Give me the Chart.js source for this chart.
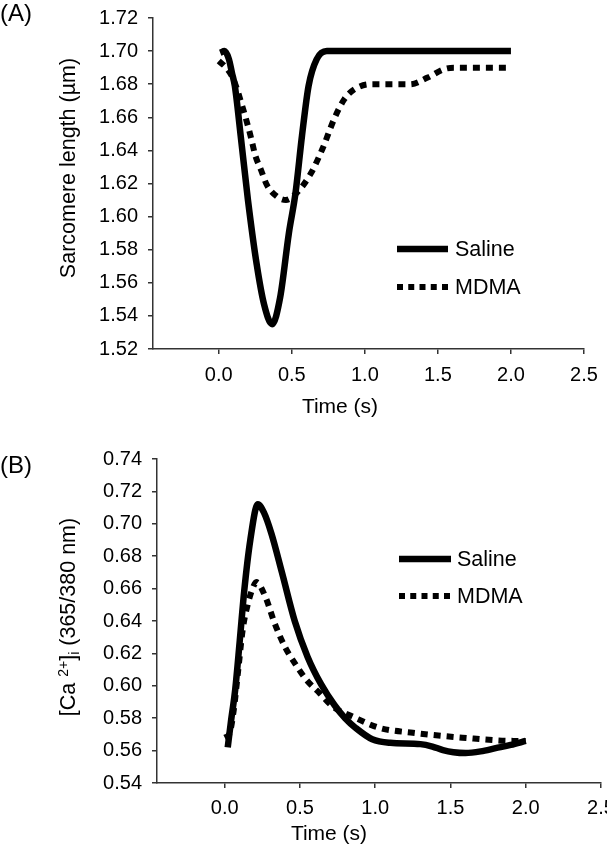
<!DOCTYPE html>
<html>
<head>
<meta charset="utf-8">
<script src="https://cdn.jsdelivr.net/npm/chart.js@4.4.0/dist/chart.umd.min.js"></script>
<style>
html,body{margin:0;padding:0;background:#fff;width:607px;height:853px;overflow:hidden;position:relative;font-family:"Liberation Sans",Arial,sans-serif;color:#000}
canvas{position:absolute;left:0}
.lbl{position:absolute;white-space:nowrap;line-height:1;transform:translate(-50%,-50%)}
.rot{transform:translate(-50%,-50%) rotate(-90deg)}
.lbl sup{font-size:65%;vertical-align:0.55em;line-height:0}
.lbl sub{font-size:65%;vertical-align:-0.3em;line-height:0}
</style>
</head>
<body>
<canvas id="cA" width="630" height="430" style="top:-4px;width:630px;height:430px"></canvas>
<canvas id="cB" width="630" height="426" style="top:427px;width:630px;height:426px"></canvas>

<div class="lbl" style="left:16px;top:13px;font-size:24px">(A)</div>
<div class="lbl rot" style="left:69px;top:168px;font-size:21.5px">Sarcomere length (µm)</div>
<div class="lbl" style="left:340px;top:405px;font-size:21px">Time (s)</div>

<div class="lbl" style="left:16px;top:465px;font-size:24px">(B)</div>
<div class="lbl rot" style="left:69px;top:617px;font-size:21.5px">[Ca <sup>2+</sup>]<sub>i</sub> (365/380 nm)</div>
<div class="lbl" style="left:329px;top:832px;font-size:21px">Time (s)</div>

<script>
// ---- data ----
const xTicks = [0.0, 0.5, 1.0, 1.5, 2.0, 2.5];
const yTicksA = [1.52, 1.54, 1.56, 1.58, 1.60, 1.62, 1.64, 1.66, 1.68, 1.70, 1.72];
const yTicksB = [0.54, 0.56, 0.58, 0.60, 0.62, 0.64, 0.66, 0.68, 0.70, 0.72, 0.74];
const seriesNames = ['Saline', 'MDMA'];

// Panel A: sarcomere length (µm) vs time (s)
const salineA_t = [0.01, 0.04, 0.07, 0.09, 0.11, 0.15, 0.20, 0.26, 0.31, 0.365, 0.42, 0.48, 0.525, 0.57, 0.615, 0.67, 0.74, 1.0, 1.5, 2.0];
const salineA_v = [1.699, 1.700, 1.695, 1.687, 1.679, 1.649, 1.610, 1.571, 1.547, 1.535, 1.551, 1.590, 1.614, 1.649, 1.679, 1.695, 1.700, 1.700, 1.700, 1.700];
const mdmaA_t = [0.0, 0.05, 0.10, 0.17, 0.22, 0.25, 0.29, 0.33, 0.40, 0.46, 0.53, 0.63, 0.71, 0.79, 0.86, 0.93, 1.04, 1.31, 1.43, 1.54, 1.61, 2.0];
const mdmaA_v = [1.694, 1.690, 1.683, 1.664, 1.648, 1.637, 1.628, 1.619, 1.612, 1.610, 1.614, 1.626, 1.641, 1.659, 1.671, 1.677, 1.680, 1.680, 1.684, 1.689, 1.690, 1.690];

// Panel B: [Ca2+]i (365/380 nm) vs time (s)
const salineB_t = [0.02, 0.04, 0.07, 0.10, 0.13, 0.17, 0.22, 0.26, 0.31, 0.38, 0.465, 0.55, 0.64, 0.73, 0.80, 0.87, 0.98, 1.10, 1.30, 1.38, 1.45, 1.52, 1.60, 1.70, 1.80, 1.90, 2.00];
const salineB_v = [0.562, 0.577, 0.598, 0.628, 0.659, 0.690, 0.712, 0.707, 0.694, 0.670, 0.640, 0.618, 0.601, 0.588, 0.580, 0.574, 0.567, 0.5648, 0.5640, 0.5625, 0.5603, 0.5590, 0.5585, 0.5595, 0.5615, 0.5635, 0.566];
const mdmaB_t = [0.0, 0.03, 0.06, 0.09, 0.12, 0.155, 0.185, 0.21, 0.27, 0.33, 0.40, 0.465, 0.54, 0.63, 0.72, 0.85, 1.03, 1.25, 1.58, 1.92, 2.0];
const mdmaB_v = [0.568, 0.570, 0.585, 0.610, 0.635, 0.651, 0.660, 0.664, 0.655, 0.639, 0.624, 0.614, 0.604, 0.5955, 0.587, 0.581, 0.574, 0.571, 0.568, 0.566, 0.566];

// ---- rendering ----
const FAMILY = "'Liberation Sans', Arial, Helvetica, sans-serif";
const AXIS = '#333';
const pts = (t, v) => t.map((x, i) => ({x: x, y: v[i]}));

const legendPlugin = {
  id: 'panelLegend',
  afterDraw(chart, args, o) {
    const ctx = chart.ctx;
    ctx.save();
    chart.data.datasets.forEach((ds, i) => {
      const y = o.y0 + i * o.dy;
      ctx.beginPath();
      ctx.lineWidth = ds.borderWidth;
      ctx.strokeStyle = ds.borderColor;
      ctx.lineCap = 'butt';
      ctx.setLineDash(ds.borderDash ? o.dash : []);
      ctx.moveTo(o.x0, y);
      ctx.lineTo(o.x1, y);
      ctx.stroke();
      ctx.setLineDash([]);
      ctx.fillStyle = '#000';
      ctx.font = o.size + 'px ' + FAMILY;
      ctx.textBaseline = 'middle';
      ctx.textAlign = 'left';
      ctx.fillText(ds.label, o.tx, y + 1);
    });
    ctx.restore();
  }
};

function makeChart(id, c) {
  return new Chart(document.getElementById(id), {
    type: 'line',
    data: {
      datasets: [
        {label: seriesNames[0], data: pts(c.st, c.sv), borderColor: '#000', borderWidth: 6.5,
         pointRadius: 0, cubicInterpolationMode: 'monotone', fill: false,
         borderJoinStyle: 'round', borderCapStyle: 'butt'},
        {label: seriesNames[1], data: pts(c.mt, c.mv), borderColor: '#000', borderWidth: 6,
         borderDash: [7, 6], pointRadius: 0, cubicInterpolationMode: 'monotone', fill: false,
         borderCapStyle: 'butt'}
      ]
    },
    options: {
      responsive: false,
      animation: false,
      events: [],
      layout: {padding: {left: 0, top: c.padTop, right: c.padRight, bottom: 0}},
      plugins: {legend: {display: false}, tooltip: {enabled: false}, panelLegend: c.legend},
      scales: {
        x: {
          type: 'linear', min: -0.45, max: 2.5,
          afterBuildTicks: s => { s.ticks = xTicks.map(v => ({value: v})); },
          afterFit: s => { s.height = c.xH; },
          grid: {display: true, drawOnChartArea: false, drawTicks: true, tickLength: 5, color: AXIS, lineWidth: 1.5},
          border: {display: true, color: AXIS, width: 1.5},
          ticks: {padding: c.xPad, color: '#000', font: {size: 20, family: FAMILY}, maxRotation: 0,
                  callback: v => Number(v).toFixed(1)}
        },
        y: {
          type: 'linear', min: c.yTicks[0], max: c.yTicks[c.yTicks.length - 1],
          afterBuildTicks: s => { s.ticks = c.yTicks.map(v => ({value: v})); },
          afterFit: s => { s.width = c.yW; },
          grid: {display: true, drawOnChartArea: false, drawTicks: true, tickLength: 5, color: AXIS, lineWidth: 1.5},
          border: {display: true, color: AXIS, width: 1.5},
          ticks: {padding: c.yPad, color: '#000', font: {size: 20, family: FAMILY},
                  callback: v => Number(v).toFixed(2)}
        }
      }
    },
    plugins: [legendPlugin]
  });
}

makeChart('cA', {
  st: salineA_t, sv: salineA_v, mt: mdmaA_t, mv: mdmaA_v, yTicks: yTicksA,
  padTop: 14, padRight: 46, yW: 153, xH: 77, xPad: 9, yPad: 10,
  legend: {x0: 397, x1: 448, tx: 455, y0: 253, dy: 38, dash: [6, 5.25], size: 21.5}
});
makeChart('cB', {
  st: salineB_t, sv: salineB_v, mt: mdmaB_t, mv: mdmaB_v, yTicks: yTicksB,
  padTop: 32, padRight: 29, yW: 157, xH: 70, xPad: 8, yPad: 10,
  legend: {x0: 399, x1: 451, tx: 457, y0: 132, dy: 37, dash: [6, 5.25], size: 21.5}
});
</script>
</body>
</html>
